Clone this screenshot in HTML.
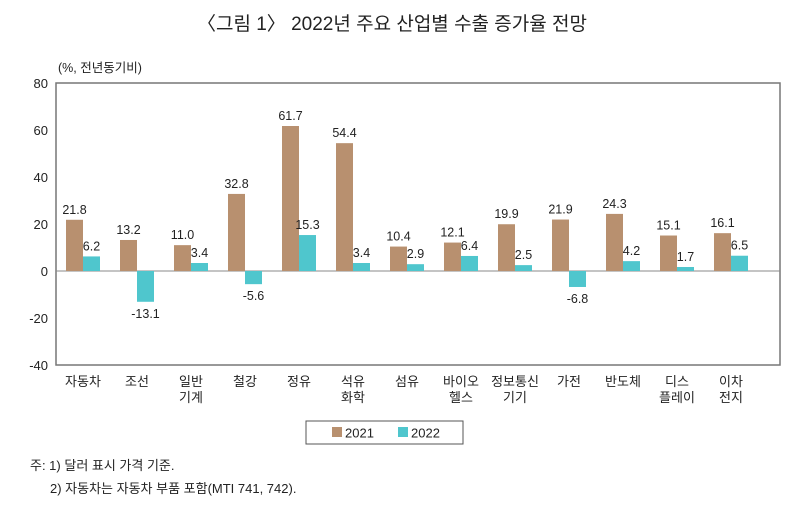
<!DOCTYPE html>
<html><head><meta charset="utf-8"><style>
body{margin:0;background:#fff;width:799px;height:511px;overflow:hidden;font-family:"Liberation Sans","Noto Sans CJK KR",sans-serif;}
svg text{font-family:"Liberation Sans","Noto Sans CJK KR",sans-serif;fill:#222;}
</style></head><body>
<svg width="799" height="511">
<text x="392" y="30" text-anchor="middle" font-size="19">〈그림 1〉 2022년 주요 산업별 수출 증가율 전망</text>
<text x="58" y="72" font-size="12.5">(%, 전년동기비)</text>
<rect x="56" y="83" width="724" height="282" fill="none" stroke="#777" stroke-width="1.5"/>
<g id="ticks"></g><g id="bars"></g><g id="cats"></g>
<rect x="306" y="421" width="157" height="23" fill="#fff" stroke="#555"/>
<rect x="332" y="427" width="10" height="10" fill="#b8906f"/>
<text x="345" y="437.5" font-size="13">2021</text>
<rect x="398" y="427" width="10" height="10" fill="#4fc6cd"/>
<text x="411" y="437.5" font-size="13">2022</text>
<text x="30" y="470" font-size="13">주: 1) 달러 표시 가격 기준.</text>
<text x="50" y="493" font-size="13">2) 자동차는 자동차 부품 포함(MTI 741, 742).</text>
</svg>
<script>
const categories=[["자동차"],["조선"],["일반","기계"],["철강"],["정유"],["석유","화학"],["섬유"],["바이오","헬스"],["정보통신","기기"],["가전"],["반도체"],["디스","플레이"],["이차","전지"]];
const s2021=[21.8,13.2,11.0,32.8,61.7,54.4,10.4,12.1,19.9,21.9,24.3,15.1,16.1];
const s2022=[6.2,-13.1,3.4,-5.6,15.3,3.4,2.9,6.4,2.5,-6.8,4.2,1.7,6.5];
const yTicks=[80,60,40,20,0,-20,-40];
const NS="http://www.w3.org/2000/svg";
const y=v=>271-v*2.35;
const cx=i=>83+54*i;
function mk(p,tag,a,t){const e=document.createElementNS(NS,tag);for(const k in a)e.setAttribute(k,a[k]);if(t!==undefined)e.textContent=t;p.appendChild(e);return e;}
const tg=document.getElementById('ticks'),bg=document.getElementById('bars'),cg=document.getElementById('cats');
yTicks.forEach(v=>{const t=mk(tg,'text',{x:48,y:y(v)+5,'text-anchor':'end','font-size':13},v);

});
const z=mk(tg,'line',{x1:56,x2:780,y1:y(0),y2:y(0),stroke:'#888'});


const bw=17;
categories.forEach((c,i)=>{
 [[s2021[i],'#b8906f',-bw,'2021'],[s2022[i],'#4fc6cd',0,'2022']].forEach(([v,col,off,yr])=>{
  const r=mk(bg,'rect',{x:cx(i)+off,y:Math.min(y(v),y(0)),width:bw,height:Math.abs(y(v)-y(0)),fill:col});
  
  
  const ly=v>=0?y(v)-6:y(v)+16;
  const t=mk(bg,'text',{x:cx(i)+off+bw/2,y:ly,'text-anchor':'middle','font-size':12.5},v.toFixed(1));
  
  
 });
 c.forEach((ln,j)=>{const t=mk(cg,'text',{x:cx(i),y:386+j*16,'text-anchor':'middle','font-size':13},ln);
 
 });
});
</script>
</body></html>
